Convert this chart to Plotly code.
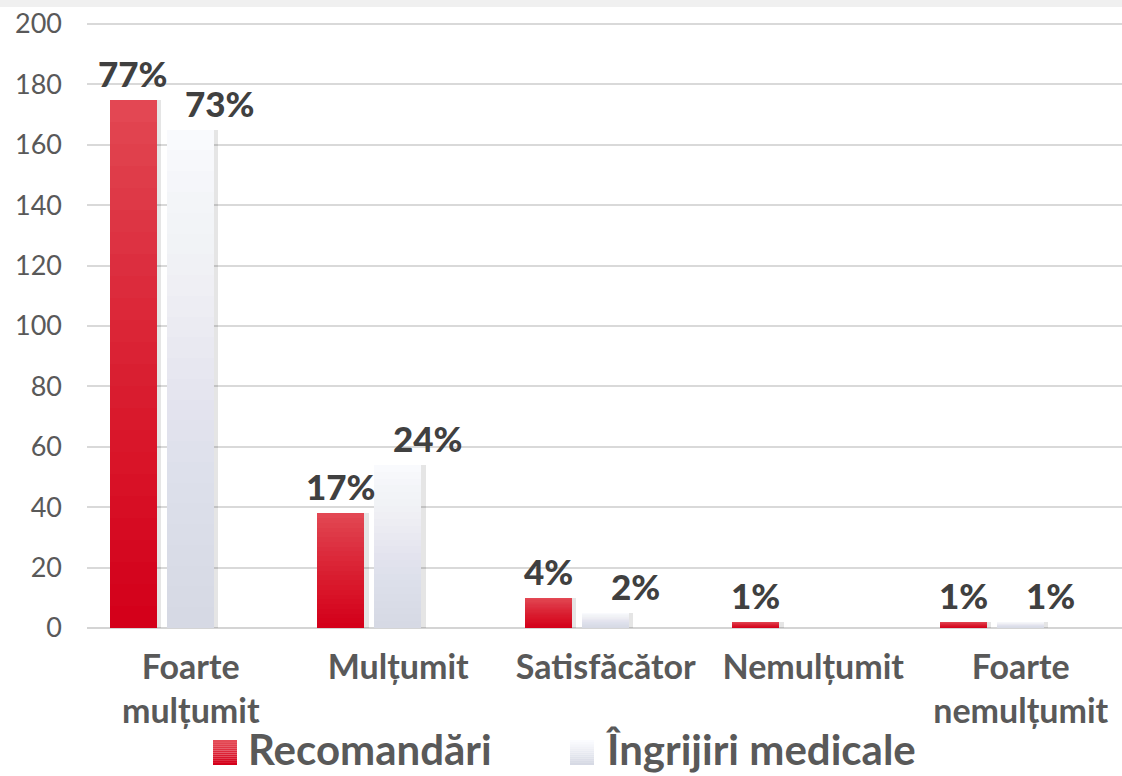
import plotly.graph_objects as go

# Survey results: number of answers per satisfaction level
categories = ["Foarte<br>mulțumit", "Mulțumit", "Satisfăcător", "Nemulțumit", "Foarte<br>nemulțumit"]
recomandari = [175, 38, 10, 2, 2]
ingrijiri = [165, 54, 5, 0, 2]
recomandari_pct = ["77%", "17%", "4%", "1%", "1%"]
ingrijiri_pct = ["73%", "24%", "2%", "", "1%"]
series_names = ["Recomandări", "Îngrijiri medicale"]
y_tick_values = [0, 20, 40, 60, 80, 100, 120, 140, 160, 180, 200]

# geometry helpers (pixels -> axis units)
W, H = 1122, 776
ML, MR, MT, MB = 87, 0, 22, 148
PLOT_W = W - ML - MR
PLOT_H = H - MT - MB
CAT_PX = 207.5                       # width of one category
X_RANGE = [-0.5, -0.5 + PLOT_W / CAT_PX]
Y_RANGE = [0, PLOT_H / 3.02]
BAR_W = 47 / CAT_PX

RED_TOP, RED_BOTTOM = (229, 76, 87), (212, 0, 26)
WHITE_TOP, WHITE_BOTTOM = (251, 252, 255), (214, 217, 228)
LABEL_COLOR = "#404040"
AXIS_TEXT = "#595959"
FONT = "Lato"

fig = go.Figure()


def rgba(c, a=1.0):
    return f"rgba({c[0]},{c[1]},{c[2]},{a:.4f})"


def gradient_bars(values, offset, top, bottom, n=24):
    # soft shadow behind the bars
    fig.add_trace(go.Bar(
        x=categories, y=values, offset=offset + 1.5 / CAT_PX, width=BAR_W + 3 / CAT_PX,
        marker=dict(color="rgba(0,0,0,0.10)", line=dict(width=0)),
        showlegend=False, hoverinfo="skip"))
    # base colour (bottom of the gradient)
    fig.add_trace(go.Bar(
        x=categories, y=values, offset=offset, width=BAR_W,
        marker=dict(color=rgba(bottom), line=dict(width=0)),
        showlegend=False))
    # layers blending toward the top colour
    for k in range(1, n):
        frac = k / n
        fig.add_trace(go.Bar(
            x=categories, y=[v * (1 - frac) for v in values],
            base=[v * frac for v in values],
            offset=offset, width=BAR_W,
            marker=dict(color=rgba(top, 1.0 / (n - k + 1)), line=dict(width=0)),
            showlegend=False, hoverinfo="skip"))


RED_OFF = -81 / CAT_PX
WHITE_OFF = -24 / CAT_PX
gradient_bars(recomandari, RED_OFF, RED_TOP, RED_BOTTOM)
gradient_bars(ingrijiri, WHITE_OFF, WHITE_TOP, WHITE_BOTTOM)

# percentage labels above the bars
annotations = []
for i, (v, t) in enumerate(zip(recomandari, recomandari_pct)):
    if t:
        annotations.append(dict(
            x=i + RED_OFF + BAR_W / 2, y=v, xref="x", yref="y", text=t,
            showarrow=False, yanchor="bottom", yshift=4,
            font=dict(family=FONT, size=35, color=LABEL_COLOR, weight=900)))
for i, (v, t) in enumerate(zip(ingrijiri, ingrijiri_pct)):
    if t:
        annotations.append(dict(
            x=i + WHITE_OFF + BAR_W / 2, y=v, xref="x", yref="y", text=t,
            showarrow=False, yanchor="bottom", yshift=4, xshift=30,
            font=dict(family=FONT, size=35, color=LABEL_COLOR, weight=900)))


def px_x(p):
    return (p - ML) / PLOT_W


def px_y(p):
    return (H - MB - p) / PLOT_H


shapes = []
# thin grey strip along the top edge
shapes.append(dict(type="rect", xref="paper", yref="paper",
                   x0=px_x(0), x1=px_x(W), y0=px_y(7), y1=px_y(0),
                   fillcolor="#f0f0f0", line=dict(width=0), layer="below"))

# legend: gradient swatches and text
legend_items = [(213, RED_TOP, RED_BOTTOM), (570, WHITE_TOP, WHITE_BOTTOM)]
for (x0, top, bottom), name in zip(legend_items, series_names):
    steps = 12
    for s in range(steps):
        t = s / (steps - 1)
        col = tuple(round(top[c] + (bottom[c] - top[c]) * t) for c in range(3))
        y_top = 740 + 25 * s / steps
        y_bot = 740 + 25 * (s + 1) / steps
        shapes.append(dict(type="rect", xref="paper", yref="paper",
                           x0=px_x(x0), x1=px_x(x0 + 24), y0=px_y(y_bot), y1=px_y(y_top),
                           fillcolor=rgba(col), line=dict(width=0)))
    annotations.append(dict(
        x=px_x(x0 + 33), y=px_y(749), xref="paper", yref="paper", text=name,
        showarrow=False, xanchor="left", yanchor="middle",
        font=dict(family=FONT, size=42, color=AXIS_TEXT, weight=700)))

fig.update_layout(
    width=W, height=H,
    margin=dict(l=ML, r=MR, t=MT, b=MB, pad=0),
    paper_bgcolor="white", plot_bgcolor="white",
    barmode="overlay", bargap=0,
    showlegend=False,
    annotations=annotations,
    shapes=shapes,
    xaxis=dict(
        type="category", range=X_RANGE, showgrid=False, zeroline=False,
        showline=False, ticks="", ticklabelstandoff=16,
        tickfont=dict(family=FONT, size=34, color=AXIS_TEXT, weight=700),
    ),
    yaxis=dict(
        range=Y_RANGE, tickvals=y_tick_values, showgrid=True,
        gridcolor="#d9d9d9", gridwidth=2, zeroline=True, zerolinecolor="#d4d4d4",
        zerolinewidth=2, showline=False, ticks="", ticklabelstandoff=24,
        tickfont=dict(family=FONT, size=27, color=AXIS_TEXT),
    ),
)

fig.write_html("out.html")
